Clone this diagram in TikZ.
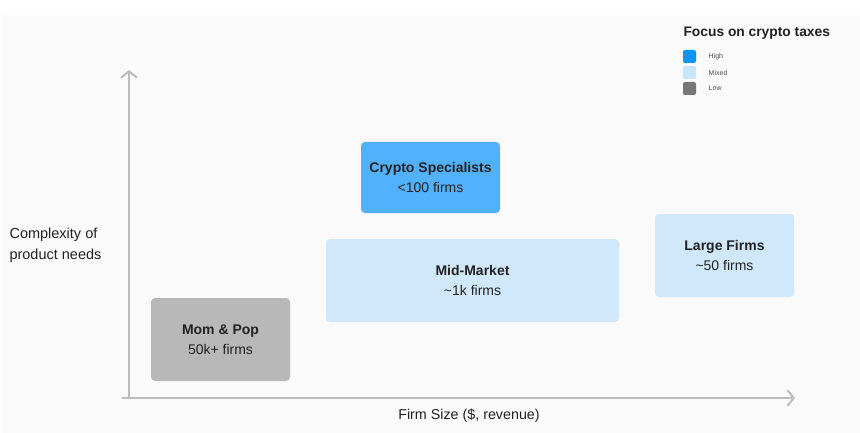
\documentclass[tikz,border=0pt]{standalone}
\usepackage{fontspec}
\setmainfont{Liberation Sans}
\usetikzlibrary{arrows.meta, positioning}
\definecolor{bgcanvas}{HTML}{FAFAFA}
\definecolor{axisgray}{HTML}{BDBDBD}
\definecolor{inkdark}{HTML}{222222}
\definecolor{highblue}{HTML}{52B1FF}
\definecolor{mixedblue}{HTML}{D0E8FC}
\definecolor{lowgray}{HTML}{B8B8B8}
\definecolor{keyhigh}{HTML}{0A96FF}
\definecolor{keymixed}{HTML}{C7E5FD}
\definecolor{keylow}{HTML}{777777}

\tikzset{
  segment/.style={rounded corners=4pt, text=inkdark, align=center,
                  font=\fontsize{14}{20}\selectfont, inner sep=0pt},
  swatch/.style={rounded corners=2pt, minimum size=13pt, inner sep=0pt},
  keytext/.style={font=\fontsize{7}{8}\selectfont, text=inkdark!80, anchor=west}
}

\begin{document}
\begin{tikzpicture}[x=1pt, y=-1pt]
      \useasboundingbox (0,0) rectangle (860,433);
      % Canvas
      \fill[white] (0,0) rectangle (860,433);
      \fill[bgcanvas] (2,15) rectangle (860,433);
      % Axes
      \coordinate (origin) at (129,398);
      \coordinate (ytip) at (129,70);
      \coordinate (xstart) at (122,398);
      \coordinate (xtip) at (795,398);
      \draw[axisgray, line width=2pt, -{Straight Barb[length=6pt, width=15pt, line cap=round]}]
        (origin) -- (ytip);
      \draw[axisgray, line width=2pt, -{Straight Barb[length=6pt, width=15pt, line cap=round]}]
        (xstart) -- (xtip);
      % Axis labels
      \node[anchor=west, align=left, text=inkdark, font=\fontsize{14.5}{21}\selectfont]
        (ylabel) at (6,245) {Complexity of\\product needs};
      \node[text=inkdark, font=\fontsize{14.3}{16}\selectfont]
        (xlabel) at (469,416) {Firm Size (\$, revenue)};
      % Segments
      \node[segment, fill=highblue, minimum width=139pt, minimum height=71pt]
        (crypto) at (430.5,177.5) {\textbf{Crypto Specialists}\\<100 firms};
      \node[segment, fill=mixedblue, minimum width=293pt, minimum height=83pt]
        (midmarket) at (472.5,280.5) {\textbf{Mid-Market}\\\textasciitilde1k firms};
      \node[segment, fill=mixedblue, minimum width=139pt, minimum height=83pt]
        (large) at (724.5,255.5) {\textbf{Large Firms}\\\textasciitilde50 firms};
      \node[segment, fill=lowgray, minimum width=139pt, minimum height=83pt]
        (mompop) at (220.5,339.5) {\textbf{Mom \& Pop}\\50k+ firms};
      % Legend
      \node[anchor=west, text=inkdark, font=\bfseries\fontsize{13.8}{16}\selectfont]
        (keytitle) at (680,33) {Focus on crypto taxes};
      \node[swatch, fill=keyhigh] (khigh) at (689.5,56.5) {};
      \node[swatch, fill=keymixed] (kmixed) at (689.5,72.5) {};
      \node[swatch, fill=keylow] (klow) at (689.5,88.5) {};
      \node[keytext, right=9pt of khigh] {High};
      \node[keytext, right=9pt of kmixed] {Mixed};
      \node[keytext, right=9pt of klow] {Low};
\end{tikzpicture}
\end{document}
